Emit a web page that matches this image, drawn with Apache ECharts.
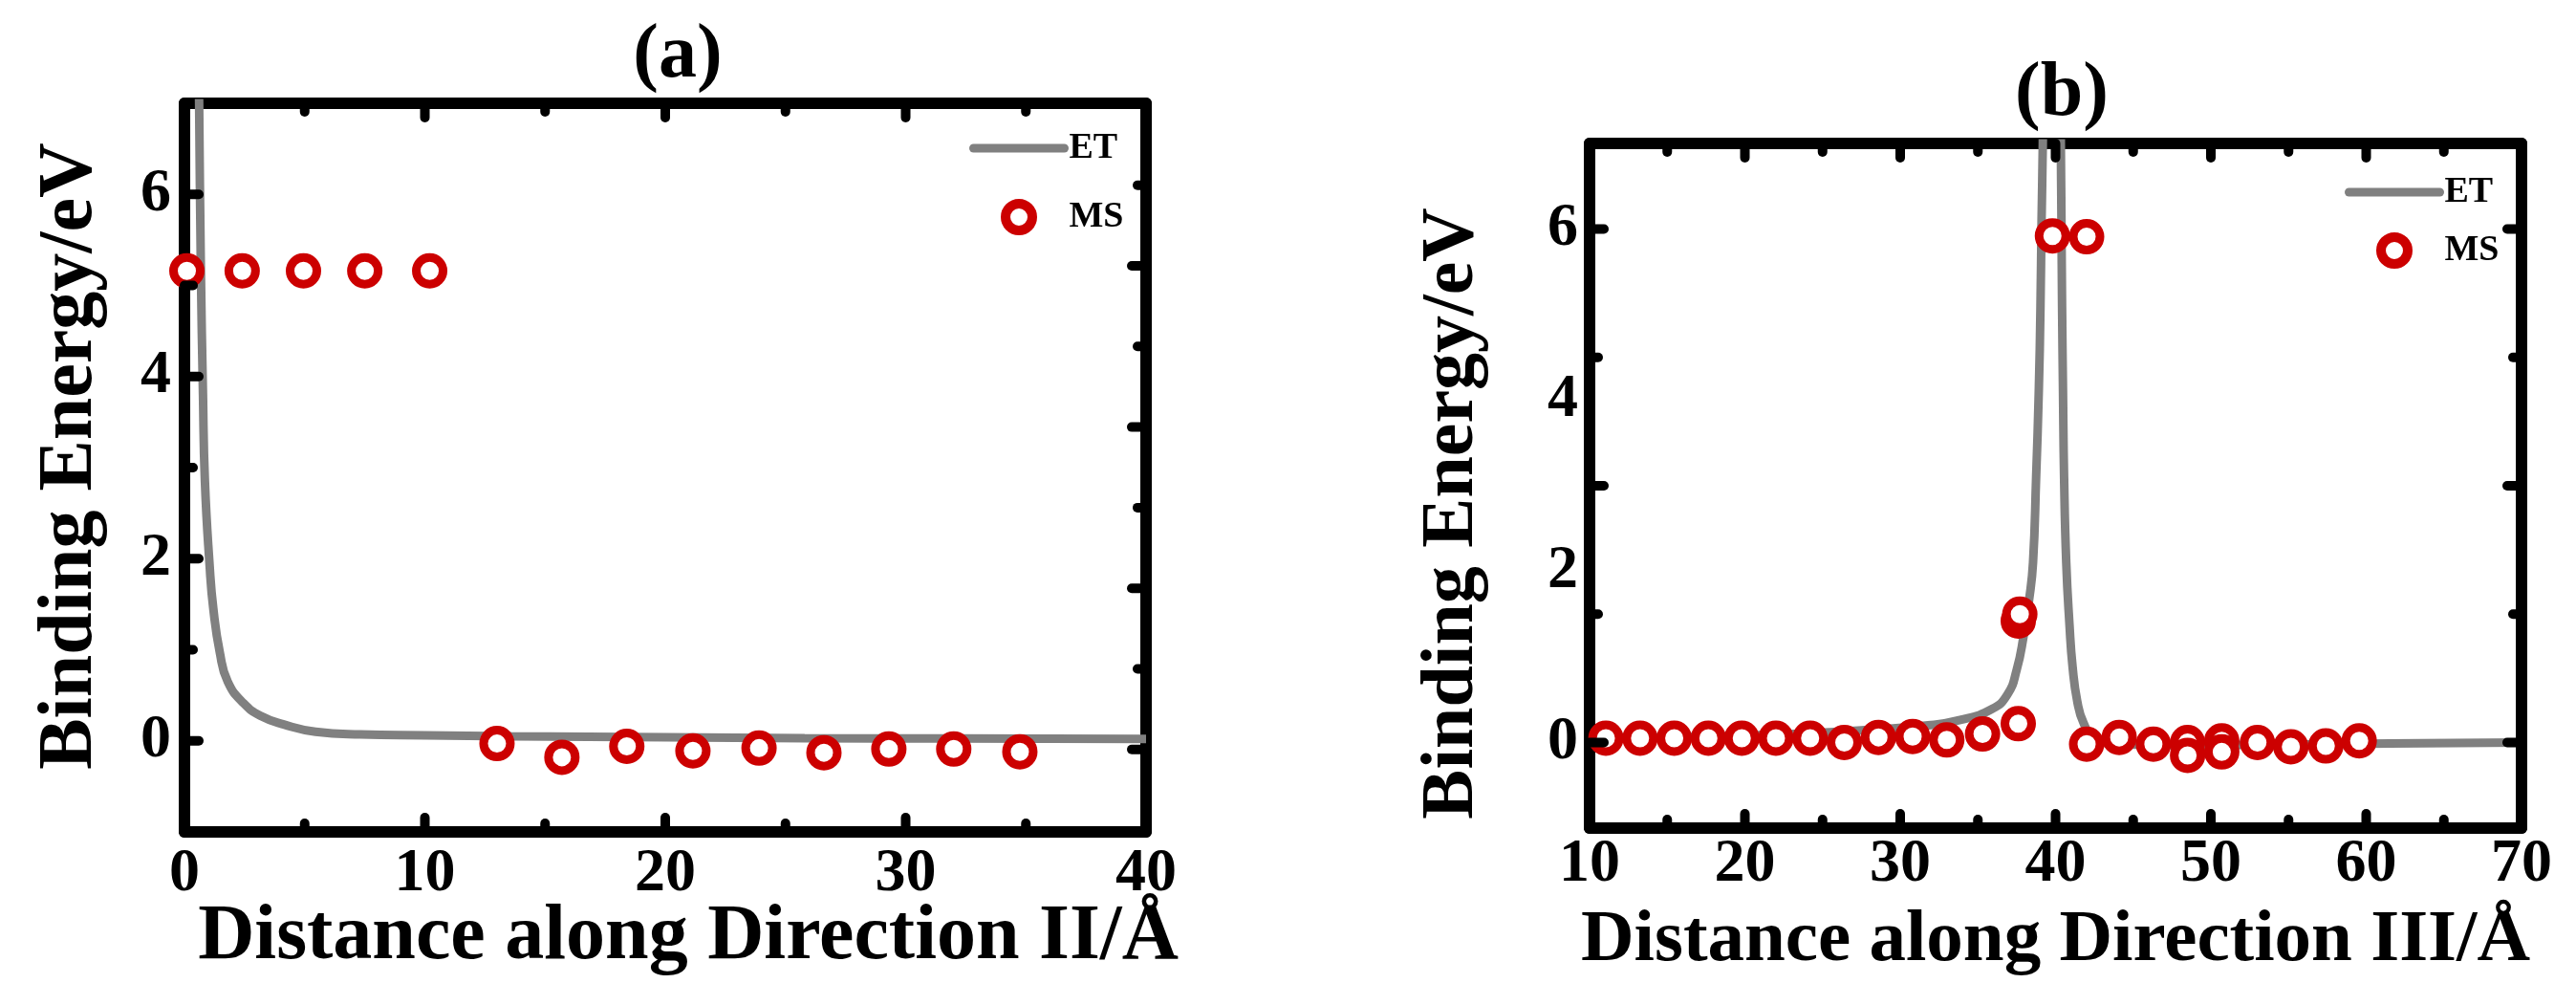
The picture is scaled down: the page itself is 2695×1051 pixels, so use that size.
<!DOCTYPE html>
<html>
<head>
<meta charset="utf-8">
<title>Binding energy along directions II and III</title>
<script src="https://cdn.jsdelivr.net/npm/echarts@6/dist/echarts.min.js"></script>
<style>
  html, body { margin: 0; padding: 0; background: #fff; }
  #chart { width: 2695px; height: 1051px; }
</style>
</head>
<body>
<div id="chart"></div>
<script>
// panel (a): direction II
const etAX = [0.57, 0.61, 0.68, 0.77, 0.85, 1.05, 1.2, 1.47, 1.8, 2.47, 3.2, 4.13, 5.45, 7.3, 10, 13.6, 20, 25.8, 32, 40]
const etAY = [8, 6.99, 5.2, 3.8, 2.85, 1.91, 1.45, 0.97, 0.65, 0.41, 0.27, 0.18, 0.1, 0.07, 0.06, 0.05, 0.04, 0.03, 0.025, 0.02]
const msAX = [0.1, 2.4, 4.95, 7.5, 10.2, 13.0, 15.7, 18.4, 21.15, 23.9, 26.6, 29.3, 32.0, 34.75]
const msAY = [5.16, 5.16, 5.16, 5.16, 5.16, -0.03, -0.18, -0.06, -0.11, -0.08, -0.13, -0.09, -0.09, -0.12]

// panel (b): direction III
const etBX = [10, 15.4, 21.5, 27.7, 31.8, 33.8, 35.9, 36.9, 37.5, 37.95, 38.3, 38.55, 38.75, 38.92, 39.03, 39.1, 39.18, 39.2,
  40.32, 40.34, 40.38, 40.42, 40.48, 40.55, 40.69, 40.9, 41.1, 41.4, 41.8, 42.4, 43.9, 48, 61.5, 70]
const etBY = [0.06, 0.065, 0.09, 0.145, 0.2, 0.26, 0.39, 0.56, 0.85, 1.25, 1.67, 2.1, 3.1, 4.1, 5.1, 6.1, 7.0, 7.6,
  7.6, 7.0, 6.1, 5.1, 4.1, 3.1, 2.1, 1.37, 0.88, 0.48, 0.23, 0.08, -0.02, -0.03, -0.01, 0.0]
const msBX = [11.05, 13.25, 15.45, 17.65, 19.8, 22.0, 24.2, 26.4, 28.6, 30.8, 33.0, 35.3, 37.6, 37.6, 37.7, 39.8, 42.0,
  42.0, 44.1, 46.3, 48.5, 48.5, 50.7, 50.7, 53.0, 55.15, 57.4, 59.55]
const msBY = [0.05, 0.05, 0.05, 0.05, 0.05, 0.05, 0.05, 0.0, 0.06, 0.07, 0.03, 0.1, 0.22, 1.42, 1.5, 5.92, 5.91,
  -0.02, 0.06, -0.02, 0.0, -0.15, 0.02, -0.11, 0.0, -0.05, -0.04, 0.02]

// axis labels and the inward tick marks on the four sides of each frame
const yLabels = [0, 2, 4, 6]
const xLabelsA = [0, 10, 20, 30, 40]
const xLabelsB = [10, 20, 30, 40, 50, 60, 70]
const yLeftMajorA = [0, 2, 4, 6]
const yLeftMinorA = [1, 3, 5]
const yRightMajorA = [-0.095, 1.675, 3.445, 5.215]
const yRightMinorA = [0.79, 2.56, 4.33, 6.1]
const xMajorA = [10, 20, 30]
const xMinorA = [5, 15, 25, 35]
const yMajorB = [0, 3, 6]
const yMinorB = [1.5, 4.5]
const xMajorB = [20, 30, 40, 50, 60]
const xMinorB = [15, 25, 35, 45, 55, 65]

const FONT = "'Liberation Serif', 'Times New Roman', serif"
const RED = '#cc0000'
const GRAY = '#808080'
const LONG = 15
const SHORT = 9

const zip = (xs, ys) => xs.map((x, i) => [x, ys[i]])

const frameAxis = (grid, position, min, max, opts = {}) => ({
  type: 'value',
  gridIndex: grid,
  position,
  min,
  max,
  axisLine: { show: true, onZero: false, lineStyle: { color: '#000', width: 12, cap: 'round' } },
  axisTick: { show: false },
  axisLabel: opts.labels ? {
    show: true,
    customValues: opts.labels,
    margin: opts.margin,
    color: '#000',
    fontFamily: FONT,
    fontWeight: 'bold',
    fontSize: 64
  } : { show: false },
  splitLine: { show: false },
  name: opts.name || '',
  nameLocation: 'middle',
  nameGap: opts.nameGap || 0,
  nameMoveOverlap: false,
  nameTextStyle: {
    color: '#000',
    fontFamily: FONT,
    fontWeight: 'bold',
    fontSize: opts.nameSize || 80,
    verticalAlign: 'middle',
    padding: opts.namePad || 0
  }
})

const etSeries = (grid, data) => ({
  name: 'ET',
  type: 'line',
  xAxisIndex: grid,
  yAxisIndex: grid,
  data,
  symbol: 'none',
  smooth: 0.5,
  lineStyle: { color: GRAY, width: 9 },
  itemStyle: { color: GRAY },
  z: 3
})

const msSeries = (grid, data) => ({
  name: 'MS',
  type: 'scatter',
  xAxisIndex: grid,
  yAxisIndex: grid,
  data,
  symbol: 'circle',
  symbolSize: 28,
  clip: false,
  itemStyle: { color: '#fff', borderColor: RED, borderWidth: 9, opacity: 1 },
  z: 4
})

const legendFor = (left, top, gap) => ({
  orient: 'vertical',
  left,
  top,
  itemWidth: 95,
  itemHeight: 28,
  itemGap: gap,
  selectedMode: false,
  textStyle: { color: '#000', fontFamily: FONT, fontWeight: 'bold', fontSize: 38 },
  data: [
    { name: 'ET', lineStyle: { width: 9, cap: 'round', color: GRAY }, itemStyle: { opacity: 0 } },
    { name: 'MS', itemStyle: { color: '#fff', borderColor: RED, borderWidth: 10 } }
  ]
})

const titles = [
  { type: 'text', x: 709, y: 59, style: { text: '(a)', align: 'center', verticalAlign: 'middle', fill: '#000', font: 'bold 80px ' + FONT } },
  { type: 'text', x: 2157, y: 99, style: { text: '(b)', align: 'center', verticalAlign: 'middle', fill: '#000', font: 'bold 80px ' + FONT } }
]

const chart = echarts.init(document.getElementById('chart'))

chart.setOption({
  backgroundColor: '#fff',
  animation: false,
  grid: [
    { left: 193, top: 108, width: 1006, height: 762, outerBoundsMode: 'none' },
    { left: 1663, top: 150, width: 975, height: 716, outerBoundsMode: 'none' }
  ],
  xAxis: [
    frameAxis(0, 'bottom', 0, 40, { labels: xLabelsA, margin: 12, name: 'Distance along Direction II/Å', nameGap: 111, nameSize: 82, namePad: [0, 0, 0, 48] }),
    frameAxis(1, 'bottom', 10, 70, { labels: xLabelsB, margin: 6, name: 'Distance along Direction III/Å', nameGap: 118, nameSize: 77 }),
    frameAxis(0, 'top', 0, 40),
    frameAxis(1, 'top', 10, 70)
  ],
  yAxis: [
    frameAxis(0, 'left', -1, 7, { labels: yLabels, margin: 14, name: 'Binding Energy/eV', nameGap: 119, nameSize: 80, namePad: [0, 0, 0, 24] }),
    frameAxis(1, 'left', -1, 7, { labels: yLabels, margin: 12, name: 'Binding Energy/eV', nameGap: 143, nameSize: 78, namePad: [0, 58, 0, 0] }),
    frameAxis(0, 'right', -1, 7),
    frameAxis(1, 'right', -1, 7)
  ],
  legend: [legendFor(1009, 131, 34), legendFor(2448, 177, 23)],
  series: [
    etSeries(0, zip(etAX, etAY)),
    msSeries(0, zip(msAX, msAY)),
    etSeries(1, zip(etBX, etBY)),
    msSeries(1, zip(msBX, msBY))
  ]
})

// inward tick marks: each tick value is converted through the grid's scales,
// then the mark is drawn from that frame side into the plot
const tickLines = (grid, side, values, edge, len) => values.map(v => {
  const vertical = side === 'bottom' || side === 'top'
  const p = chart.convertToPixel({ gridIndex: grid }, vertical ? [v, edge] : [edge, v])
  const dx = side === 'left' ? len : side === 'right' ? -len : 0
  const dy = side === 'bottom' ? -len : side === 'top' ? len : 0
  return {
    type: 'line',
    silent: true,
    z: 100,
    shape: { x1: p[0], y1: p[1], x2: p[0] + dx, y2: p[1] + dy },
    style: { stroke: '#000', lineWidth: 10, lineCap: 'round' }
  }
})

const ticks = [].concat(
  tickLines(0, 'bottom', xMajorA, -1, LONG),
  tickLines(0, 'bottom', xMinorA, -1, SHORT),
  tickLines(0, 'top', xMajorA, 7, LONG),
  tickLines(0, 'top', xMinorA, 7, SHORT),
  tickLines(0, 'left', yLeftMajorA, 0, LONG),
  tickLines(0, 'left', yLeftMinorA, 0, SHORT),
  tickLines(0, 'right', yRightMajorA, 40, LONG),
  tickLines(0, 'right', yRightMinorA, 40, SHORT),
  tickLines(1, 'bottom', xMajorB, -1, LONG),
  tickLines(1, 'bottom', xMinorB, -1, SHORT),
  tickLines(1, 'top', xMajorB, 7, LONG),
  tickLines(1, 'top', xMinorB, 7, SHORT),
  tickLines(1, 'left', yMajorB, 10, LONG),
  tickLines(1, 'left', yMinorB, 10, SHORT),
  tickLines(1, 'right', yMajorB, 70, LONG),
  tickLines(1, 'right', yMinorB, 70, SHORT)
)

chart.setOption({ graphic: titles.concat(ticks) })

window.addEventListener('resize', () => chart.resize())
</script>
</body>
</html>
